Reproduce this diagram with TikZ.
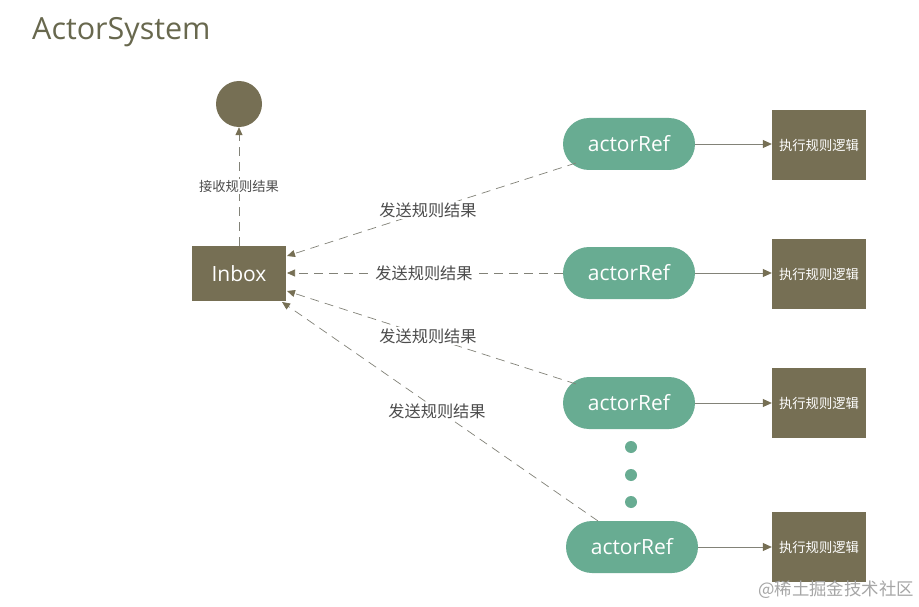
\documentclass[tikz,border=0pt]{standalone}
\usepackage{fontspec}
\setmainfont{Open Sans}
\newfontfamily\cjk{Noto Sans CJK SC}
\usetikzlibrary{arrows.meta}
\definecolor{olive}{RGB}{118,111,84}
\definecolor{mint}{RGB}{104,172,146}
\definecolor{titlec}{RGB}{104,104,78}
\definecolor{linec}{RGB}{130,130,120}
\tikzset{
  pill/.style={fill=mint,minimum width=132pt,minimum height=52pt,rounded corners=26pt,text=white,font=\fontsize{21}{21}\selectfont},
  execbox/.style={fill=olive,minimum width=94pt,minimum height=70pt,text=white,font=\cjk\fontsize{13.3}{14}\selectfont,inner sep=0pt},
  sendarrow/.style={draw=linec,dashed,dash pattern=on 9pt off 6pt,line width=0.7pt,-{Triangle[length=8pt,width=7pt,fill=olive,color=olive]}},
  solidarrow/.style={draw=linec,line width=0.8pt,-{Triangle[length=9pt,width=8pt,fill=olive,color=olive]}},
  lbl/.style={fill=white,inner sep=1.5pt,text=black!70,font=\cjk\fontsize{16.2}{16}\selectfont},
  dot/.style={circle,fill=mint,minimum size=12pt,inner sep=0pt}
}
\begin{document}
\begin{tikzpicture}[x=1pt,y=-1pt]
\useasboundingbox (0,0) rectangle (919,607);
\fill[white] (0,0) rectangle (919,607);
\node[anchor=base west,inner sep=0pt,text=titlec,font=\fontsize{30.5}{30}\selectfont] (title) at (32,40) {ActorSystem};
\node[circle,fill=olive,minimum size=46pt,inner sep=0pt] (sink) at (239,104) {};
\node[fill=olive,minimum width=94pt,minimum height=55pt,text=white,font=\fontsize{21}{21}\selectfont] (inbox) at (239,273.5) {Inbox};
\draw[sendarrow] (inbox.north) -- node[lbl,font=\cjk\fontsize{13.3}{14}\selectfont] {接收规则结果} (sink.south);
\node[pill] (a1) at (629,144) {actorRef};
\node[pill] (a2) at (629,273) {actorRef};
\node[pill] (a3) at (629,403) {actorRef};
\node[pill] (a4) at (632,547) {actorRef};
\node[execbox] (e1) at (819,145) {执行规则逻辑};
\node[execbox] (e2) at (819,274) {执行规则逻辑};
\node[execbox] (e3) at (819,403) {执行规则逻辑};
\node[execbox] (e4) at (819,547) {执行规则逻辑};
\draw[solidarrow] (a1.east) -- (e1.west |- a1.east);
\draw[solidarrow] (a2.east) -- (e2.west |- a2.east);
\draw[solidarrow] (a3.east) -- (e3.west |- a3.east);
\draw[solidarrow] (a4.east) -- (e4.west |- a4.east);
\coordinate (s1) at (576,163);
\coordinate (s3) at (576,384);
\coordinate (s4) at (598,521);
\coordinate (t1) at (287,256);
\coordinate (t2) at (287,273);
\coordinate (t3) at (287,291);
\coordinate (t4) at (282,302);
\draw[sendarrow] (s1) -- (t1);
\draw[sendarrow] (a2.west) -- (t2);
\draw[sendarrow] (s3) -- (t3);
\draw[sendarrow] (s4) -- (t4);
\node[lbl] (l1) at (428,210) {发送规则结果};
\node[lbl] (l2) at (424,273) {发送规则结果};
\node[lbl] (l3) at (428,336) {发送规则结果};
\node[lbl] (l4) at (437,411) {发送规则结果};
\node[dot] (d1) at (631,447) {};
\node[dot] (d2) at (631,475) {};
\node[dot] (d3) at (631,502) {};
\node[anchor=east,inner sep=0pt,text=black!35,font=\cjk\fontsize{17.4}{17}\selectfont] (wm) at (914,590) {@稀土掘金技术社区};
\end{tikzpicture}
\end{document}
